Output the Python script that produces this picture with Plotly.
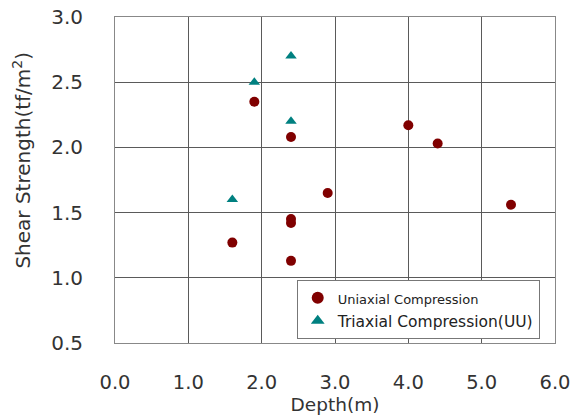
import plotly.graph_objects as go

uni_depth = [1.6, 1.9, 2.4, 2.4, 2.4, 2.4, 2.9, 4.0, 4.4, 5.4]
uni_strength = [1.27, 2.35, 2.08, 1.45, 1.42, 1.13, 1.65, 2.17, 2.03, 1.56]
tri_depth = [1.6, 1.9, 2.4, 2.4]
tri_strength = [1.60, 2.50, 2.70, 2.20]
x_ticks = [0, 1, 2, 3, 4, 5, 6]
y_ticks = [0.5, 1.0, 1.5, 2.0, 2.5, 3.0]

font_family = "DejaVu Sans, sans-serif"

fig = go.Figure()
fig.add_trace(go.Scatter(
    x=uni_depth, y=uni_strength, mode="markers",
    name="<span style='font-size:13px'>Uniaxial Compression</span>",
    marker=dict(symbol="circle", size=10, color="#800000"),
))
fig.add_trace(go.Scatter(
    x=tri_depth, y=tri_strength, mode="markers",
    name="Triaxial Compression(UU)",
    marker=dict(symbol="triangle-up", size=10, color="#008080"),
))

fig.update_layout(
    width=572, height=415,
    margin=dict(l=115, r=17, t=17, b=72),
    paper_bgcolor="white", plot_bgcolor="white",
    font=dict(family=font_family, color="#222222"),
    showlegend=True,
    legend=dict(
        x=0.413, y=0.193, xanchor="left", yanchor="top",
        bgcolor="white", bordercolor="#777777", borderwidth=1,
        font=dict(size=15.5, color="#222222"),
        itemsizing="constant", tracegroupgap=0,
    ),
    annotations=[dict(
        text="Shear Strength(tf/m<sup>2</sup>)", textangle=-90,
        xref="paper", yref="paper", x=-0.211, y=0.56,
        xanchor="center", yanchor="middle", showarrow=False,
        font=dict(size=20, color="#333333"),
    )],
)
fig.update_xaxes(
    range=[0, 6], tickvals=x_ticks, tickformat=".1f", automargin=False,
    ticklabeloverflow="allow",
    showgrid=True, gridcolor="#5a5a5a", gridwidth=1,
    showline=True, linecolor="#888888", linewidth=1, mirror=True,
    zeroline=False, ticks="outside", ticklen=22, tickcolor="rgba(0,0,0,0)",
    tickfont=dict(size=19.5, color="#333333"),
    title=dict(text="Depth(m)", font=dict(size=18.5, color="#333333"), standoff=4),
)
fig.update_yaxes(
    range=[0.5, 3.0], tickvals=y_ticks, tickformat=".1f", automargin=False,
    ticklabeloverflow="allow",
    showgrid=True, gridcolor="#5a5a5a", gridwidth=1,
    showline=True, linecolor="#888888", linewidth=1, mirror=True,
    zeroline=False, ticks="outside", ticklen=27, tickcolor="rgba(0,0,0,0)",
    tickfont=dict(size=20, color="#333333"),
)

fig.write_html("out.html", config={"displayModeBar": False},
               post_script="document.body.style.margin='0';")
